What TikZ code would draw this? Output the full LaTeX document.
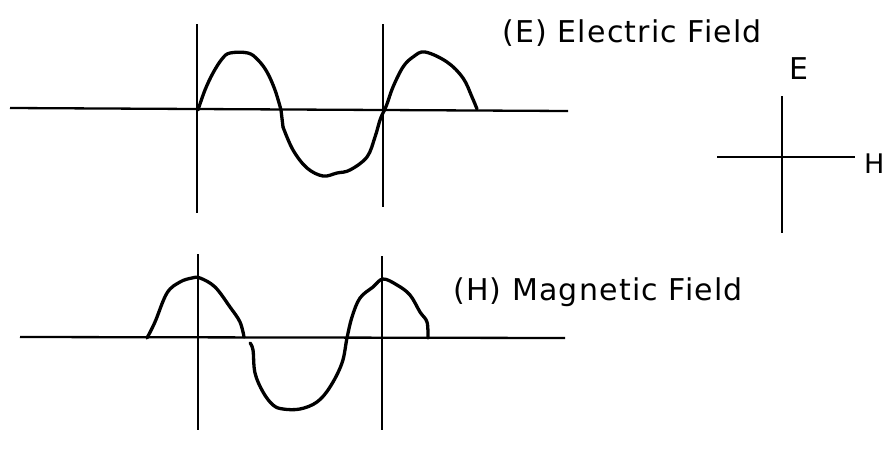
\documentclass[tikz,border=0pt]{standalone}
\usepackage{fontspec}
\setmainfont{DejaVu Sans}
\newfontfamily\lblfont[LetterSpace=4]{DejaVu Sans}
\begin{document}
\begin{tikzpicture}[x=1pt,y=-1pt,
  axisline/.style={line width=2.3pt},
  wave/.style={line width=3.3pt, line join=round, line cap=round},
  lbl/.style={inner sep=0pt, anchor=base west, font=\lblfont\fontsize{30}{36}\selectfont}]
\useasboundingbox (0,0) rectangle (884,453);
% top panel
\draw[axisline] (10,108) -- (568,111);
\draw[axisline] (197,24) -- (197,213);
\draw[axisline] (383,24) -- (383,207);
\draw[wave] plot[smooth, tension=0.6] coordinates {(198,110) (205,90) (213,73) (222,59) (230,53) (248,53) (258,60) (267,72) (275,90) (281,110)}
  -- (283,127);
\draw[wave] plot[smooth, tension=0.6] coordinates {(283,127) (293,150) (307,168) (323,176) (337,173) (350,170) (367,157) (375,137) (380,120) (384,111)};
\draw[wave] plot[smooth, tension=0.6] coordinates {(384,111) (387,104) (393,87) (403,67) (413,57) (425,52) (447,62) (463,78) (472,97) (477,109)};
\node[lbl] (efield) at (502,42) {(E) Electric Field};
% bottom panel
\draw[axisline] (20,337) -- (565,338);
\draw[axisline] (198,254) -- (198,430);
\draw[axisline] (382,256) -- (382,430);
\draw[wave] plot[smooth, tension=0.6] coordinates {(147,338) (155,322) (167,293) (180,282) (192,278) (200,278) (215,287) (230,307) (240,322) (244,337)};
\draw[wave] plot[smooth, tension=0.6] coordinates {(250,343) (253,350) (255,373) (263,392) (273,405) (283,409) (300,409) (317,402) (330,387) (342,363) (347,338) (352,317) (360,298) (373,287) (383,279) (397,285) (410,295) (420,312) (427,322) (428,338)};
\node[lbl] (hfield) at (453,300) {(H) Magnetic Field};
% cross
\coordinate (ctop) at (782,96);
\coordinate (cbot) at (782,233);
\coordinate (cleft) at (717,157);
\coordinate (cright) at (855,157);
\draw[axisline] (ctop) -- (cbot);
\draw[axisline] (cleft) -- (cright);
\node[lbl] (elab) at (789,79) {E};
\node[lbl, font=\lblfont\fontsize{27}{32}\selectfont] (hlab) at (864,173) {H};
\end{tikzpicture}
\end{document}
